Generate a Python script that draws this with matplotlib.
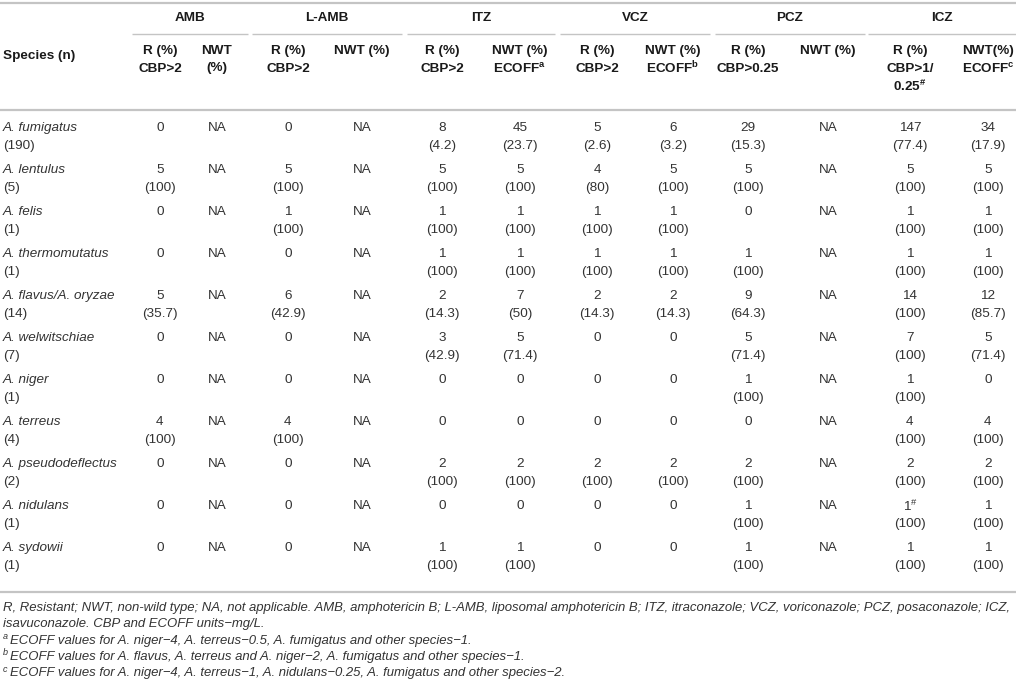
import matplotlib.pyplot as plt

plt.rcParams['font.family'] = ['Liberation Sans', 'DejaVu Sans']
plt.rcParams['mathtext.default'] = 'regular'

# table data
species = ['A. fumigatus', 'A. lentulus', 'A. felis', 'A. thermomutatus',
           'A. flavus/A. oryzae', 'A. welwitschiae', 'A. niger', 'A. terreus',
           'A. pseudodeflectus', 'A. nidulans', 'A. sydowii']
species_n = [190, 5, 1, 1, 14, 7, 1, 4, 2, 1, 1]

groups = ['AMB', 'L-AMB', 'ITZ', 'VCZ', 'PCZ', 'ICZ']
subheaders = ['R (%)\nCBP>2', 'NWT\n(%)',
              'R (%)\nCBP>2', 'NWT (%)',
              'R (%)\nCBP>2', 'NWT (%)\nECOFF$^{a}$',
              'R (%)\nCBP>2', 'NWT (%)\nECOFF$^{b}$',
              'R (%)\nCBP>0.25', 'NWT (%)',
              'R (%)\nCBP>1/\n0.25$^{\\#}$', 'NWT(%)\nECOFF$^{c}$']

# counts per column (one list per column, one entry per species)
amb_r = ['0', '5', '0', '0', '5', '0', '0', '4', '0', '0', '0']
amb_nwt = ['NA'] * 11
lamb_r = ['0', '5', '1', '0', '6', '0', '0', '4', '0', '0', '0']
lamb_nwt = ['NA'] * 11
itz_r = ['8', '5', '1', '1', '2', '3', '0', '0', '2', '0', '1']
itz_nwt = ['45', '5', '1', '1', '7', '5', '0', '0', '2', '0', '1']
vcz_r = ['5', '4', '1', '1', '2', '0', '0', '0', '2', '0', '0']
vcz_nwt = ['6', '5', '1', '1', '2', '0', '0', '0', '2', '0', '0']
pcz_r = ['29', '5', '0', '1', '9', '5', '1', '0', '2', '1', '1']
pcz_nwt = ['NA'] * 11
icz_r = ['147', '5', '1', '1', '14', '7', '1', '4', '2', '1#', '1']
icz_nwt = ['34', '5', '1', '1', '12', '5', '0', '4', '2', '1', '1']

# percentages (None = no second line)
amb_r_pct = [None, '100', None, None, '35.7', None, None, '100', None, None, None]
amb_nwt_pct = [None] * 11
lamb_r_pct = [None, '100', '100', None, '42.9', None, None, '100', None, None, None]
lamb_nwt_pct = [None] * 11
itz_r_pct = ['4.2', '100', '100', '100', '14.3', '42.9', None, None, '100', None, '100']
itz_nwt_pct = ['23.7', '100', '100', '100', '50', '71.4', None, None, '100', None, '100']
vcz_r_pct = ['2.6', '80', '100', '100', '14.3', None, None, None, '100', None, None]
vcz_nwt_pct = ['3.2', '100', '100', '100', '14.3', None, None, None, '100', None, None]
pcz_r_pct = ['15.3', '100', None, '100', '64.3', '71.4', '100', None, '100', '100', '100']
pcz_nwt_pct = [None] * 11
icz_r_pct = ['77.4', '100', '100', '100', '100', '100', '100', '100', '100', '100', '100']
icz_nwt_pct = ['17.9', '100', '100', '100', '85.7', '71.4', None, '100', '100', '100', '100']

counts = [amb_r, amb_nwt, lamb_r, lamb_nwt, itz_r, itz_nwt,
          vcz_r, vcz_nwt, pcz_r, pcz_nwt, icz_r, icz_nwt]
pcts = [amb_r_pct, amb_nwt_pct, lamb_r_pct, lamb_nwt_pct, itz_r_pct, itz_nwt_pct,
        vcz_r_pct, vcz_nwt_pct, pcz_r_pct, pcz_nwt_pct, icz_r_pct, icz_nwt_pct]

footnotes = [
    ('', 'R, Resistant; NWT, non-wild type; NA, not applicable. AMB, amphotericin B; L-AMB, '
         'liposomal amphotericin B; ITZ, itraconazole; VCZ, voriconazole; PCZ, posaconazole; ICZ,'),
    ('', 'isavuconazole. CBP and ECOFF units\u2212mg/L.'),
    ('a', 'ECOFF values for A. niger\u22124, A. terreus\u22120.5, A. fumigatus and other species\u22121.'),
    ('b', 'ECOFF values for A. flavus, A. terreus and A. niger\u22122, A. fumigatus and other species\u22121.'),
    ('c', 'ECOFF values for A. niger\u22124, A. terreus\u22121, A. nidulans\u22120.25, A. fumigatus and other species\u22122.'),
]

# layout (pixel coordinates)
W, H = 1016, 687
col_x = [160, 217, 288, 362, 442, 520, 597, 673, 748, 828, 910, 988]
group_spans = [(132, 248), (252, 402), (407, 555), (560, 710), (715, 865), (868, 1016)]
row_y0, row_step, line_step = 128, 42, 17.5
fs = 9.7
fs_note = 9.45
hdr_color = '#1a1a1a'
txt_color = '#333333'
rule_color = '#c4c4c4'

fig = plt.figure(figsize=(W / 100, H / 100), dpi=100)
ax = fig.add_axes([0, 0, 1, 1])
ax.set_xlim(0, W)
ax.set_ylim(H, 0)
ax.axis('off')

# rules
ax.plot([0, W], [3, 3], color=rule_color, lw=1.6, solid_capstyle='butt')
ax.plot([0, W], [110, 110], color=rule_color, lw=1.6, solid_capstyle='butt')
ax.plot([0, W], [592, 592], color=rule_color, lw=1.6, solid_capstyle='butt')
for (x0, x1), g in zip(group_spans, groups):
    ax.plot([x0, x1], [34, 34], color=rule_color, lw=1.0, solid_capstyle='butt')
    ax.text((x0 + x1) / 2, 18, g, ha='center', va='center', fontsize=fs,
            fontweight='bold', color=hdr_color)

# header
ax.text(3, 56, 'Species (n)', ha='left', va='center', fontsize=fs,
        fontweight='bold', color=hdr_color)
for x, sh in zip(col_x, subheaders):
    for k, line in enumerate(sh.split('\n')):
        ax.text(x, 51 + k * line_step, line, ha='center', va='center', fontsize=fs,
                fontweight='bold', color=hdr_color)

# body
for i, (sp, n) in enumerate(zip(species, species_n)):
    y = row_y0 + i * row_step
    ax.text(3, y, sp, ha='left', va='center', fontsize=fs, style='italic', color=txt_color)
    ax.text(3, y + line_step, f'({n})', ha='left', va='center', fontsize=fs, color=txt_color)
    for x, cnt, pct in zip(col_x, counts, pcts):
        val = cnt[i]
        if val.endswith('#'):
            val = val[:-1] + '$^{\\#}$'
        ax.text(x, y, val, ha='center', va='center', fontsize=fs, color=txt_color)
        if pct[i] is not None:
            ax.text(x, y + line_step, f'({pct[i]})', ha='center', va='center',
                    fontsize=fs, color=txt_color)

# footnotes
for k, (sup, note) in enumerate(footnotes):
    y = 608 + k * 16.3
    x = 3
    if sup:
        ax.text(x, y - 4, sup, ha='left', va='center', fontsize=6.5, style='italic',
                color=txt_color)
        x = 10
    ax.text(x, y, note, ha='left', va='center', fontsize=fs_note, style='italic',
            color=txt_color)

fig.savefig('out.png', dpi=100)
